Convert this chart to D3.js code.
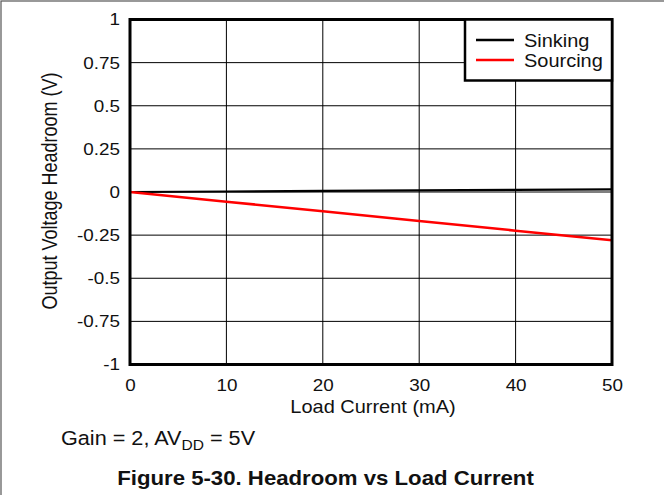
<!DOCTYPE html>
<html>
<head>
<meta charset="utf-8">
<script src="https://cdn.jsdelivr.net/npm/d3@7"></script>
<style>
	body { margin: 0; background: #fff; }
	svg { display: block; font-family: "Liberation Sans", Arial, sans-serif; }
</style>
</head>
<body>
<div id="chart"></div>
<script>
// Data
const loadCurrent = [0, 10, 20, 30, 40, 50];
const sinking = [0, 0.003, 0.006, 0.009, 0.012, 0.015];
const sourcing = [0, -0.056, -0.112, -0.168, -0.224, -0.28];
const xTicks = [0, 10, 20, 30, 40, 50];
const yTicks = [-1, -0.75, -0.5, -0.25, 0, 0.25, 0.5, 0.75, 1];
const seriesNames = ["Sinking", "Sourcing"];
const seriesColors = ["#000000", "#ff0000"];

const width = 664;
const height = 495;
const margin = { left: 130, right: 52, top: 19.5, bottom: 130.5 };
const stretch = 1.11; // text in the original is a bit wide

const svg = d3.select("#chart").append("svg")
	.attr("width", width)
	.attr("height", height);

// Outer frame (only top and left show)
svg.append("rect")
	.attr("x", 1).attr("y", 1)
	.attr("width", width + 10).attr("height", height + 10)
	.attr("fill", "none")
	.attr("stroke", "#555")
	.attr("stroke-width", 1.2);

const x = d3.scaleLinear().domain([0, 50]).range([margin.left, width - margin.right]);
const y = d3.scaleLinear().domain([-1, 1]).range([height - margin.bottom, margin.top]);

// Grid
const grid = svg.append("g");
grid.selectAll(".vg")
	.data(xTicks.slice(1, -1))
	.join("line")
	.attr("x1", d => x(d)).attr("x2", d => x(d))
	.attr("y1", y(-1)).attr("y2", y(1))
	.attr("stroke", "#000").attr("stroke-width", 1);
grid.selectAll(".hg")
	.data(yTicks.slice(1, -1))
	.join("line")
	.attr("x1", x(0)).attr("x2", x(50))
	.attr("y1", d => y(d)).attr("y2", d => y(d))
	.attr("stroke", "#000").attr("stroke-width", 1);

// Tick labels
const xAxis = d3.axisBottom(x).tickValues(xTicks).tickSize(0).tickPadding(14);
svg.append("g")
	.attr("transform", `translate(0, ${y(-1)})`)
	.call(xAxis)
	.call(g => g.select(".domain").remove())
	.selectAll("text")
	.attr("transform", `scale(${stretch},1)`)
	.style("font-size", "17px")
	.attr("fill", "#111")
	.attr("font-family", "Liberation Sans, Arial, sans-serif");

const yAxis = d3.axisLeft(y).tickValues(yTicks).tickSize(0).tickPadding(9)
	.tickFormat(d => String(d));
svg.append("g")
	.attr("transform", `translate(${x(0)}, 0)`)
	.call(yAxis)
	.call(g => g.select(".domain").remove())
	.selectAll("text")
	.attr("transform", `scale(${stretch},1)`)
	.style("font-size", "17px")
	.attr("fill", "#111")
	.attr("font-family", "Liberation Sans, Arial, sans-serif");

// Lines
const line = d3.line().x((d, i) => x(loadCurrent[i])).y(d => y(d));
svg.append("path")
	.datum(sinking)
	.attr("d", line)
	.attr("fill", "none")
	.attr("stroke", seriesColors[0])
	.attr("stroke-width", 2.2);
svg.append("path")
	.datum(sourcing)
	.attr("d", line)
	.attr("fill", "none")
	.attr("stroke", seriesColors[1])
	.attr("stroke-width", 2.5);

// Plot border
svg.append("rect")
	.attr("x", x(0)).attr("y", y(1))
	.attr("width", x(50) - x(0)).attr("height", y(-1) - y(1))
	.attr("fill", "none")
	.attr("stroke", "#000")
	.attr("stroke-width", 3);

// Legend
const legend = svg.append("g").attr("transform", `translate(465, ${y(1)})`);
legend.append("rect")
	.attr("width", 147).attr("height", 61)
	.attr("fill", "#fff")
	.attr("stroke", "#000")
	.attr("stroke-width", 2.5);
seriesNames.forEach((name, i) => {
	const ly = 20.5 + i * 20;
	legend.append("line")
		.attr("x1", 11).attr("x2", 49)
		.attr("y1", ly).attr("y2", ly)
		.attr("stroke", seriesColors[i])
		.attr("stroke-width", 2.5);
	legend.append("text")
		.attr("transform", `translate(59, ${ly + 6.5}) scale(${stretch},1)`)
		.style("font-size", "18px")
		.attr("fill", "#111")
		.text(name);
});

// Axis titles
svg.append("text")
	.attr("transform", `translate(${x(25) + 2}, 413) scale(${stretch},1)`)
	.attr("text-anchor", "middle")
	.style("font-size", "18px")
	.attr("fill", "#111")
	.text("Load Current (mA)");

svg.append("text")
	.attr("transform", `translate(57, ${y(0) - 1}) scale(1.2,1) rotate(-90)`)
	.attr("text-anchor", "middle")
	.style("font-size", "18px")
	.attr("fill", "#111")
	.text("Output Voltage Headroom (V)");

// Note
const note = svg.append("text")
	.attr("transform", `translate(61, 445) scale(${stretch},1)`)
	.style("font-size", "19.5px")
	.attr("fill", "#111");
note.append("tspan").text("Gain = 2, AV");
note.append("tspan").attr("dy", 5).style("font-size", "14px").text("DD");
note.append("tspan").attr("dy", -5).text(" = 5V");

// Figure caption
svg.append("text")
	.attr("transform", `translate(325.5, 485) scale(${stretch},1)`)
	.attr("text-anchor", "middle")
	.style("font-size", "20px")
	.style("font-weight", "bold")
	.attr("fill", "#111")
	.text("Figure 5-30. Headroom vs Load Current");
</script>
</body>
</html>
